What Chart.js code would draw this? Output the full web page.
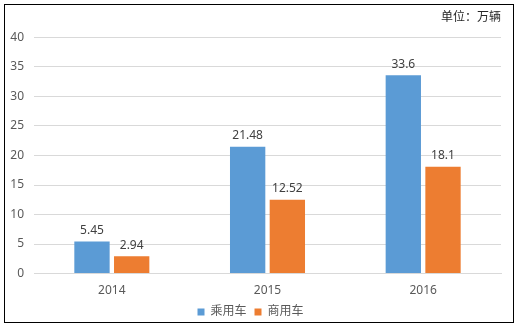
<!DOCTYPE html>
<html lang="zh">
<head>
  <meta charset="UTF-8" />
  <title>乘用车与商用车</title>
  <script src="https://cdn.jsdelivr.net/npm/chart.js"></script>
  <style>
    body { margin: 0; background: #fff; }
    .wrap { position: relative; width: 517px; height: 328px; }
    .frame {
      position: absolute; left: 4px; top: 4px; width: 508px; height: 317px;
      border: 1.5px solid #000; pointer-events: none;
    }
    canvas { position: absolute; left: 0; top: 0; }
  </style>
</head>
<body>
  <div class="wrap">
    <canvas id="chart" width="517" height="328"></canvas>
    <div class="frame"></div>
  </div>

  <script>
    const years = ["2014", "2015", "2016"];
    const passenger = [5.45, 21.48, 33.6];
    const commercial = [2.94, 12.52, 18.1];
    const seriesNames = ["乘用车", "商用车"];
    const unitText = "单位：万辆";

    const fontFamily = "'Noto Sans', 'Noto Sans CJK SC', sans-serif";

    // value labels above each bar
    const barLabels = {
      id: "barLabels",
      afterDatasetsDraw(chart) {
        const ctx = chart.ctx;
        ctx.save();
        ctx.font = "12px " + fontFamily;
        ctx.fillStyle = "#404040";
        ctx.textAlign = "center";
        ctx.textBaseline = "bottom";
        chart.data.datasets.forEach((ds, i) => {
          chart.getDatasetMeta(i).data.forEach((bar, j) => {
            ctx.fillText(String(ds.data[j]), bar.x, bar.y - 5);
          });
        });
        ctx.restore();
      }
    };

    new Chart(document.getElementById("chart"), {
      type: "bar",
      data: {
        labels: years,
        datasets: [
          { label: seriesNames[0], data: passenger, backgroundColor: "#5B9BD5" },
          { label: seriesNames[1], data: commercial, backgroundColor: "#ED7D31" }
        ]
      },
      options: {
        responsive: false,
        animation: false,
        layout: { padding: { left: 0, right: 16, top: 8, bottom: 0 } },
        datasets: { bar: { barPercentage: 0.89, categoryPercentage: 0.51 } },
        plugins: {
          title: {
            display: true,
            text: unitText,
            align: "end",
            color: "#262626",
            font: { family: fontFamily, size: 12, weight: "normal" },
            padding: { top: 2, bottom: 13 }
          },
          legend: {
            position: "bottom",
            labels: {
              boxWidth: 7, boxHeight: 7, padding: 8,
              color: "#595959",
              font: { family: fontFamily, size: 12 }
            }
          },
          tooltip: { enabled: false }
        },
        scales: {
          x: {
            grid: { display: false },
            border: { color: "#d9d9d9" },
            ticks: { color: "#595959", font: { family: fontFamily, size: 12 }, padding: 2 },
            afterFit(scale) { scale.height -= 2; }
          },
          y: {
            min: 0, max: 40,
            ticks: { stepSize: 5, color: "#595959", font: { family: fontFamily, size: 12 }, padding: 10 },
            grid: { color: "#d9d9d9", drawTicks: false },
            border: { display: false },
            afterFit(scale) { scale.width = 34; }
          }
        }
      },
      plugins: [barLabels]
    });
  </script>
</body>
</html>
